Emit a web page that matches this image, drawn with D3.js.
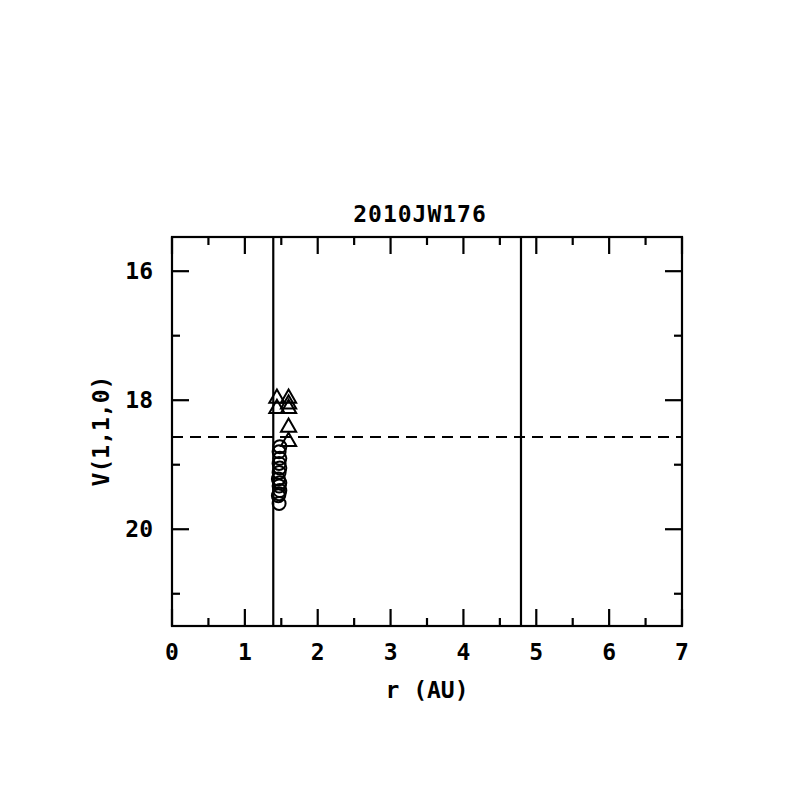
<!DOCTYPE html>
<html>
<head>
<meta charset="utf-8">
<script src="https://cdn.jsdelivr.net/npm/d3@7"></script>
<style>
  body { margin: 0; background: #fff; }
  text { font-family: "DejaVu Sans Mono", monospace; font-weight: bold; fill: #000; }
</style>
</head>
<body>
<div id="chart"></div>
<script>
const title = "2010JW176";
const xTicks = [0, 1, 2, 3, 4, 5, 6, 7];
const yTicks = [16, 18, 20];
const rLines = [1.39, 4.79];
const meanMag = 18.57;

// triangles
const triR = [1.44, 1.44, 1.60, 1.60, 1.60, 1.60, 1.60];
const triV = [17.97, 18.13, 17.97, 18.06, 18.13, 18.42, 18.64];
// circles
const circR = [1.48, 1.47, 1.48, 1.47, 1.48, 1.47, 1.46, 1.48, 1.47, 1.48, 1.47, 1.46, 1.47];
const circV = [18.72, 18.80, 18.90, 18.98, 19.05, 19.12, 19.22, 19.28, 19.33, 19.40, 19.45, 19.48, 19.60];

const margin = { top: 237, left: 172 };
const width = 510, height = 389;
const fs = 23;

const svg = d3.select("#chart").append("svg")
    .attr("width", 797).attr("height", 797);
const g = svg.append("g").attr("transform", `translate(${margin.left},${margin.top})`);

const x = d3.scaleLinear().domain([0, 7]).range([0, width]);
const y = d3.scaleLinear().domain([15.47, 21.5]).range([0, height]);

const line = (sel) => sel.attr("stroke", "#000").attr("stroke-width", 2.2).attr("fill", "none");

// ticks on all sides
const xMinor = d3.range(0, 7.01, 0.5);
const yMinor = [16, 17, 18, 19, 20, 21];
xMinor.forEach(v => {
    const len = Number.isInteger(v) ? 17 : 8;
    g.append("line").attr("x1", x(v)).attr("x2", x(v)).attr("y1", height).attr("y2", height - len).call(line);
    g.append("line").attr("x1", x(v)).attr("x2", x(v)).attr("y1", 0).attr("y2", len).call(line);
});
yMinor.forEach(v => {
    const len = v % 2 === 0 ? 17 : 8;
    g.append("line").attr("y1", y(v)).attr("y2", y(v)).attr("x1", 0).attr("x2", len).call(line);
    g.append("line").attr("y1", y(v)).attr("y2", y(v)).attr("x1", width).attr("x2", width - len).call(line);
});

g.append("rect").attr("width", width).attr("height", height).call(line);

g.selectAll(".xl").data(xTicks).enter().append("text")
    .attr("x", d => x(d)).attr("y", height + 34)
    .attr("text-anchor", "middle").attr("font-size", fs).text(d => d);
g.selectAll(".yl").data(yTicks).enter().append("text")
    .attr("x", -19).attr("y", d => y(d) + 8)
    .attr("text-anchor", "end").attr("font-size", fs).text(d => d);

g.selectAll(".rl").data(rLines).enter().append("line")
    .attr("x1", d => x(d)).attr("x2", d => x(d)).attr("y1", 0).attr("y2", height).call(line);

g.append("line").attr("x1", 0).attr("x2", width).attr("y1", y(meanMag)).attr("y2", y(meanMag))
    .call(line).attr("stroke-dasharray", "11,7");

const tri = d3.symbol().type(d3.symbolTriangle).size(100);
g.selectAll(".tri").data(triR.map((r, i) => [r, triV[i]])).enter().append("path")
    .attr("d", tri).attr("transform", d => `translate(${x(d[0])},${y(d[1])})`)
    .attr("fill", "none").attr("stroke", "#000").attr("stroke-width", 2);
g.selectAll(".circ").data(circR.map((r, i) => [r, circV[i]])).enter().append("circle")
    .attr("cx", d => x(d[0])).attr("cy", d => y(d[1])).attr("r", 6.5)
    .attr("fill", "none").attr("stroke", "#000").attr("stroke-width", 2);

svg.append("text").attr("x", 420).attr("y", 222).attr("text-anchor", "middle")
    .attr("font-size", fs).attr("letter-spacing", 1).text(title);
svg.append("text").attr("x", 427).attr("y", 698).attr("text-anchor", "middle")
    .attr("font-size", fs).text("r (AU)");
svg.append("text").attr("transform", "translate(109,431) rotate(-90)").attr("text-anchor", "middle")
    .attr("font-size", fs).text("V(1,1,0)");
</script>
</body>
</html>
